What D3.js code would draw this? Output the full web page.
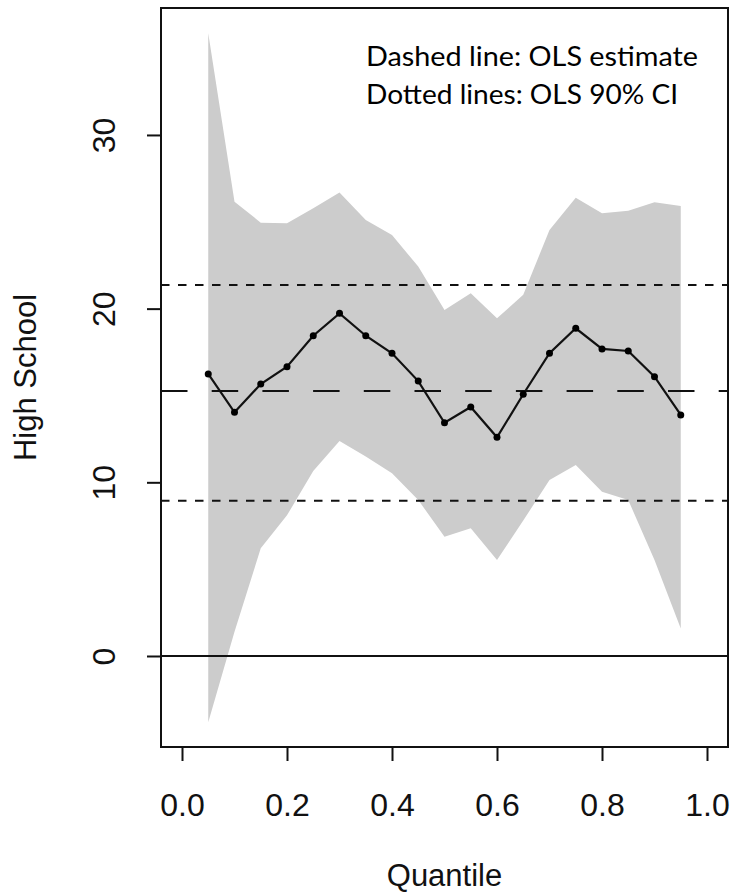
<!DOCTYPE html>
<html>
<head>
<meta charset="utf-8">
<script src="https://cdn.jsdelivr.net/npm/d3@7"></script>
<style>
  body { margin: 0; background: #fff; }
  svg { display: block; }
</style>
</head>
<body>
<script>
// quantile regression coefficients for "High School"
const quantiles = [0.05, 0.10, 0.15, 0.20, 0.25, 0.30, 0.35, 0.40, 0.45, 0.50,
                   0.55, 0.60, 0.65, 0.70, 0.75, 0.80, 0.85, 0.90, 0.95];
const estimate = [16.24, 14.03, 15.66, 16.66, 18.44, 19.73, 18.44, 17.43, 15.83, 13.43,
                  14.34, 12.59, 15.07, 17.43, 18.87, 17.68, 17.56, 16.08, 13.88];
const upperCI = [35.86, 26.16, 24.95, 24.91, 25.78, 26.68, 25.10, 24.24, 22.42, 19.92,
                 20.88, 19.44, 20.80, 24.53, 26.39, 25.49, 25.64, 26.12, 25.91];
const lowerCI = [-3.82, 1.40, 6.20, 8.10, 10.65, 12.38, 11.48, 10.52, 8.98, 6.87,
                 7.35, 5.53, 7.80, 10.13, 11.00, 9.46, 8.98, 5.53, 1.59];

// OLS reference lines
const olsEstimate = 15.26;
const olsCI = [8.94, 21.36];

const xTicks = [0, 0.2, 0.4, 0.6, 0.8, 1.0];
const yTicks = [0, 10, 20, 30];
const notes = ["Dashed line: OLS estimate", "Dotted lines: OLS 90% CI"];
const noteWidths = [332, 312];

const width = 731, height = 894;
const box = { left: 161, right: 728, top: 8, bottom: 747 };

const svg = d3.select("body").append("svg")
    .attr("width", width)
    .attr("height", height);

const x = d3.scaleLinear()
    .domain([-0.04, 1.04])
    .range([box.left, box.right]);

const y = d3.scaleLinear()
    .domain([-5.24, 37.31])
    .range([box.bottom, box.top]);

const data = quantiles.map((q, i) => ({ q: q, est: estimate[i], lo: lowerCI[i], hi: upperCI[i] }));

// shaded confidence band
const band = d3.area()
    .x(d => x(d.q))
    .y0(d => y(d.lo))
    .y1(d => y(d.hi));

svg.append("path")
    .datum(data)
    .attr("d", band)
    .attr("fill", "#cccccc");

// OLS lines
svg.append("line")
    .attr("x1", box.left).attr("x2", box.right)
    .attr("y1", y(olsEstimate)).attr("y2", y(olsEstimate))
    .attr("stroke", "#111").attr("stroke-width", 2)
    .attr("stroke-dasharray", "26.5 24.2");

svg.selectAll(".ci-line")
    .data(olsCI)
    .enter()
    .append("line")
    .attr("class", "ci-line")
    .attr("x1", box.left).attr("x2", box.right)
    .attr("y1", d => y(d)).attr("y2", d => y(d))
    .attr("stroke", "#111").attr("stroke-width", 2)
    .attr("stroke-dasharray", "8.5 8.5");

// zero line
svg.append("line")
    .attr("x1", box.left).attr("x2", box.right)
    .attr("y1", y(0)).attr("y2", y(0))
    .attr("stroke", "#111").attr("stroke-width", 2);

// estimates
const line = d3.line()
    .x(d => x(d.q))
    .y(d => y(d.est));

svg.append("path")
    .datum(data)
    .attr("d", line)
    .attr("fill", "none")
    .attr("stroke", "#111")
    .attr("stroke-width", 2.2);

svg.selectAll(".pt")
    .data(data)
    .enter()
    .append("circle")
    .attr("class", "pt")
    .attr("cx", d => x(d.q))
    .attr("cy", d => y(d.est))
    .attr("r", 3.5)
    .attr("fill", "#000");

// frame
svg.append("rect")
    .attr("x", box.left).attr("y", box.top)
    .attr("width", box.right - box.left)
    .attr("height", box.bottom - box.top)
    .attr("fill", "none")
    .attr("stroke", "#111")
    .attr("stroke-width", 2);

// axes
const tickFont = "'Liberation Sans', Arial, sans-serif";

const xAxis = svg.append("g")
    .attr("transform", "translate(0," + box.bottom + ")")
    .call(d3.axisBottom(x).tickValues(xTicks).tickFormat(d3.format(".1f")).tickSize(14).tickPadding(32));

const yAxis = svg.append("g")
    .attr("transform", "translate(" + box.left + ",0)")
    .call(d3.axisLeft(y).tickValues(yTicks).tickFormat(d3.format("d")).tickSize(14));

[xAxis, yAxis].forEach(g => {
    g.select(".domain").remove();
    g.selectAll(".tick line").attr("stroke", "#111").attr("stroke-width", 2);
    g.selectAll(".tick text")
        .attr("fill", "#111")
        .style("font-family", tickFont)
        .style("font-size", "32px");
});

yAxis.selectAll(".tick text")
    .attr("transform", "rotate(-90)")
    .attr("x", 0)
    .attr("y", -46)
    .attr("dy", 0)
    .style("text-anchor", "middle");

// axis titles
svg.append("text")
    .attr("x", (box.left + box.right) / 2)
    .attr("y", 886)
    .attr("text-anchor", "middle")
    .style("font-family", tickFont)
    .style("font-size", "31px")
    .attr("fill", "#111")
    .text("Quantile");

svg.append("text")
    .attr("transform", "translate(36," + (box.top + box.bottom) / 2 + ") rotate(-90)")
    .attr("text-anchor", "middle")
    .style("font-family", tickFont)
    .style("font-size", "31px")
    .attr("fill", "#111")
    .text("High School");

// annotation
svg.selectAll(".note")
    .data(notes)
    .enter()
    .append("text")
    .attr("class", "note")
    .attr("x", 366)
    .attr("y", (d, i) => 66 + i * 37.5)
    .attr("textLength", (d, i) => noteWidths[i])
    .attr("lengthAdjust", "spacingAndGlyphs")
    .style("font-family", "Lato, 'Open Sans', sans-serif")
    .style("font-size", "26px")
    .attr("fill", "#000")
    .text(d => d);
</script>
</body>
</html>
